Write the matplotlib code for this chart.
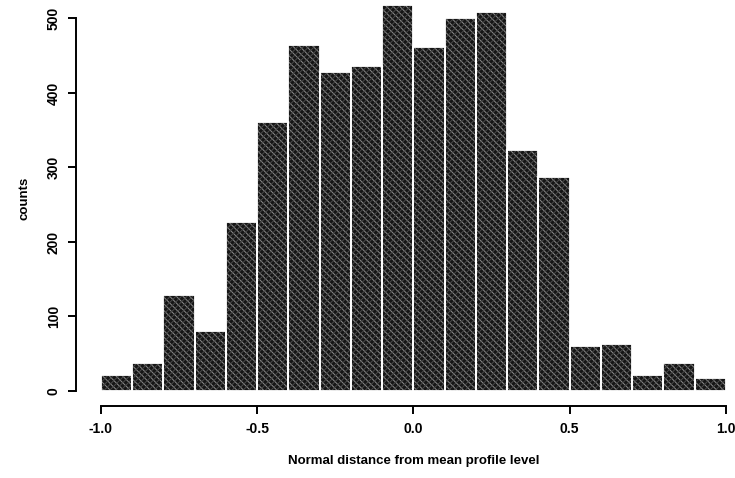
"""Histogram of normal distance from the mean profile level (R-style axes)."""

import matplotlib

matplotlib.use("Agg")
import matplotlib.pyplot as plt
import numpy as np

# bin edges (width 0.1 from -1 to 1) and counts
bin_edges = np.round(np.arange(-1.0, 1.0001, 0.1), 2)
counts = [21, 37, 129, 80, 227, 361, 464, 428, 436, 518,
          462, 501, 509, 324, 287, 61, 63, 22, 38, 18]
x_ticks = [-1.0, -0.5, 0.0, 0.5, 1.0]
y_ticks = [0, 100, 200, 300, 400, 500]

plt.rcParams["font.family"] = ["Liberation Sans", "DejaVu Sans"]
plt.rcParams["font.weight"] = "bold"
plt.rcParams["hatch.linewidth"] = 0.7

fig = plt.figure(figsize=(7.35, 4.78), dpi=100)
ax = fig.add_axes([0.1034, 0.1498, 0.918, 0.872])

lefts = bin_edges[:-1]
widths = np.diff(bin_edges)
# dark dotted fill, then a thin white outline separating the bars
ax.bar(lefts, counts, width=widths, align="edge", color="#151515",
       edgecolor="#8c8c8c", hatch="\\\\\\\\\\", linewidth=0)
ax.bar(lefts, counts, width=widths, align="edge", fill=False,
       edgecolor="#4a4a4a", hatch="//////", linewidth=0)
ax.bar(lefts, counts, width=widths, align="edge", fill=False,
       edgecolor="white", linewidth=1.3)

ax.set_xlim(-1.08, 1.08)
ax.set_ylim(-20.7, 538.7)

for side in ("top", "right"):
    ax.spines[side].set_visible(False)
ax.spines["left"].set_bounds(0, 500)
ax.spines["bottom"].set_bounds(-1.0, 1.0)
for side in ("left", "bottom"):
    ax.spines[side].set_linewidth(1.4)

ax.set_xticks(x_ticks)
ax.set_xticklabels([f"{t:.1f}" for t in x_ticks])
ax.set_yticks(y_ticks)
ax.set_yticklabels([str(t) for t in y_ticks], rotation=90, va="center")
ax.tick_params(direction="out", length=6, width=1.4, labelsize=10, pad=5)

ax.set_xlabel("Normal distance from mean profile level", fontsize=9.5,
              fontweight="bold", labelpad=14)
ax.set_ylabel("counts", fontsize=9.5, fontweight="bold", labelpad=12)

fig.savefig("out.png", dpi=100)
